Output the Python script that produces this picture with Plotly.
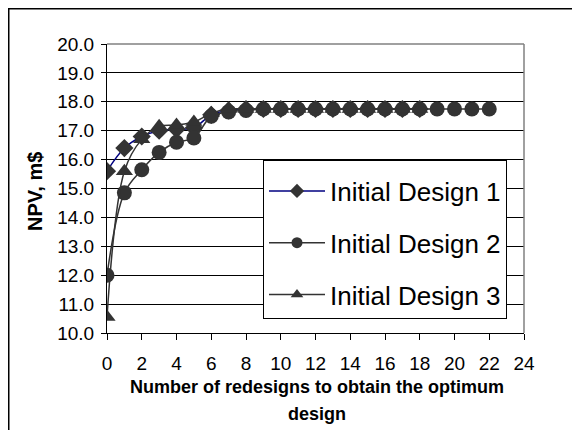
import plotly.graph_objects as go

redesigns_1 = list(range(0, 19))
npv_design_1 = [15.6, 16.4, 16.8, 17.0, 17.05, 17.1, 17.55, 17.7, 17.75, 17.75,
                17.75, 17.75, 17.75, 17.75, 17.75, 17.75, 17.75, 17.75, 17.75]

redesigns_2 = list(range(0, 23))
npv_design_2 = [12.0, 14.85, 15.65, 16.25, 16.6, 16.75, 17.5, 17.65, 17.7, 17.75,
                17.75, 17.75, 17.75, 17.75, 17.75, 17.75, 17.75, 17.75, 17.75, 17.75,
                17.75, 17.75, 17.75]

redesigns_3 = list(range(0, 19))
npv_design_3 = [10.55, 15.6, 16.7, 17.15, 17.2, 17.3, 17.6, 17.75, 17.75, 17.75,
                17.75, 17.75, 17.75, 17.75, 17.75, 17.75, 17.75, 17.75, 17.75]

series_names = ["Initial Design 1", "Initial Design 2", "Initial Design 3"]
x_ticks = list(range(0, 25, 2))
y_ticks = [10 + i for i in range(11)]

# page has an 8px body margin: work in screen pixels, convert to figure pixels
OFF = 8
W, H = 572, 422
L, R, T, B = 107 - OFF, W - (524 - OFF), 44 - OFF, H - (333 - OFF)
pw, ph = W - L - R, H - T - B

def px_to_paper(sx, sy):
    fx, fy = sx - OFF, sy - OFF
    return (fx - L) / pw, (H - B - fy) / ph

MARK = "#333333"
LINE_COLORS = ["#000080", MARK, MARK]
SYMBOLS = ["diamond", "circle", "triangle-up"]
xs = [redesigns_1, redesigns_2, redesigns_3]
ys = [npv_design_1, npv_design_2, npv_design_3]

fig = go.Figure()
for i in range(3):
    fig.add_trace(go.Scatter(
        x=xs[i], y=ys[i], name=series_names[i], mode="lines+markers",
        line=dict(color=LINE_COLORS[i], width=1.5, shape="spline"),
        marker=dict(symbol=SYMBOLS[i], size=15 if i else 14, color=MARK),
        showlegend=False))
# legend entries (smaller symbols, like the reference key)
for i in range(3):
    fig.add_trace(go.Scatter(
        x=[None], y=[None], name=series_names[i], mode="lines+markers",
        line=dict(color=LINE_COLORS[i], width=1.5),
        marker=dict(symbol=SYMBOLS[i], size=11, color=MARK),
        legendgroup="g%d" % i, showlegend=True))

font_family = "Liberation Sans, Arial, sans-serif"

lx, ly = px_to_paper(263, 160)

fig.update_layout(
    width=W, height=H,
    margin=dict(l=L, r=R, t=T, b=B),
    paper_bgcolor="white", plot_bgcolor="white",
    font=dict(family=font_family, color="black", size=19),
    showlegend=True,
    legend=dict(x=lx, y=ly, xanchor="left", yanchor="top",
                bgcolor="white", bordercolor="black", borderwidth=1,
                font=dict(size=26, family=font_family, color="black"),
                title=dict(text=" ", font=dict(size=5)),
                tracegroupgap=15, itemwidth=56),
    xaxis=dict(range=[0, 24], tickvals=x_ticks, showgrid=False,
               showline=True, linecolor="black", linewidth=1,
               ticks="outside", ticklen=6, tickcolor="black",
               ticklabelstandoff=7, zeroline=False,
               tickfont=dict(size=19)),
    yaxis=dict(range=[10, 20], tickvals=y_ticks, tickformat=".1f",
               showgrid=True, gridcolor="black", gridwidth=1,
               showline=True, linecolor="black", linewidth=1,
               ticks="outside", ticklen=5, tickcolor="black",
               ticklabelstandoff=3, zeroline=False,
               tickfont=dict(size=19)),
    shapes=[
        dict(type="line", xref="paper", yref="paper", x0=0, x1=1, y0=1, y1=1,
             line=dict(color="#808080", width=1.5), layer="above"),
        dict(type="line", xref="paper", yref="paper", x0=1, x1=1, y0=0, y1=1,
             line=dict(color="#808080", width=1.5), layer="above"),
        dict(type="line", xref="paper", yref="paper",
             x0=px_to_paper(8.75, 0)[0], x1=px_to_paper(8.75, 0)[0],
             y0=px_to_paper(0, 430)[1], y1=px_to_paper(0, 7)[1],
             line=dict(color="black", width=1.5)),
        dict(type="line", xref="paper", yref="paper",
             x0=px_to_paper(8, 0)[0], x1=px_to_paper(580, 0)[0],
             y0=px_to_paper(0, 8.75)[1], y1=px_to_paper(0, 8.75)[1],
             line=dict(color="black", width=1.5)),
    ],
    annotations=[
        dict(text="<b>Number of redesigns to obtain the optimum</b>", xref="paper", yref="paper",
             x=px_to_paper(317, 387)[0], y=px_to_paper(317, 387)[1],
             xanchor="center", yanchor="middle", showarrow=False,
             font=dict(size=18, family=font_family)),
        dict(text="<b>design</b>", xref="paper", yref="paper",
             x=px_to_paper(317, 414)[0], y=px_to_paper(317, 414)[1],
             xanchor="center", yanchor="middle", showarrow=False,
             font=dict(size=18, family=font_family)),
        dict(text="<b>NPV, m$</b>", xref="paper", yref="paper", textangle=-90,
             x=px_to_paper(35, 192)[0], y=px_to_paper(35, 192)[1],
             xanchor="center", yanchor="middle", showarrow=False,
             font=dict(size=20, family=font_family)),
    ],
)

fig.write_html("out.html")
